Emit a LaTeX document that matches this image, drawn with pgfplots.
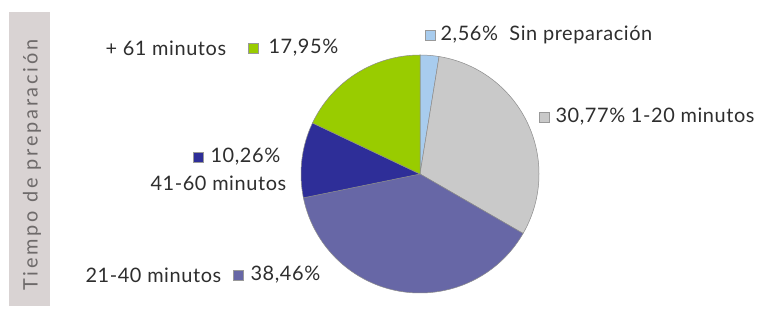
\documentclass[border=0pt]{standalone}
\usepackage{fontspec}
\setmainfont{Lato}
\usepackage{pgfplots}
\usepackage{pgfplotstable}
\pgfplotsset{compat=1.18}
\definecolor{c0}{HTML}{A8CCEE}
\definecolor{c1}{HTML}{C9C9C9}
\definecolor{c2}{HTML}{6767A6}
\definecolor{c3}{HTML}{2E2E98}
\definecolor{c4}{HTML}{99CC00}
\definecolor{band}{HTML}{D9D3D3}
\definecolor{bandtext}{HTML}{6E6A6A}
\definecolor{txt}{HTML}{2E2E2E}

\pgfplotstableread{
pct
2.56
30.77
38.46
10.26
17.95
}\piedata

\begin{document}
\begin{tikzpicture}
\begin{axis}[x=1bp,y=1bp,xmin=0,xmax=764,ymin=0,ymax=306,hide axis,clip=false,scale only axis,
  every node/.append style={inner sep=0pt}]
\fill[white] (axis cs:0,0) rectangle (axis cs:764,306);
\fill[band] (axis cs:9,0) rectangle (axis cs:50,294);
\def\startang{90}
\pgfplotsforeachungrouped \i in {0,...,4}{%
  \pgfplotstablegetelem{\i}{pct}\of\piedata
  \pgfmathsetmacro\endang{\startang-3.6*\pgfplotsretval}%
  \edef\temp{\noexpand\filldraw[fill=c\i,draw=black!45,line width=0.5bp] (axis cs:420,132) -- ++(\startang:119bp) arc[start angle=\startang,end angle=\endang,radius=119bp] -- cycle;}%
  \temp
  \global\let\startang\endang
}
\node[rotate=90,text=bandtext,font=\fontsize{20}{23}\selectfont\addfontfeature{LetterSpace=14}] at (axis cs:32,141) {Tiempo de preparación};
\tikzset{lab/.style={anchor=west,text=txt,font=\fontsize{20}{23}\selectfont\addfontfeature{LetterSpace=3}},
  sq/.style={draw=black!40,minimum size=10bp,inner sep=0pt}}
\node[lab] at (axis cs:102,258) {+ 61 minutos};
\node[sq,fill=c4] at (axis cs:253,258) {};
\node[lab] at (axis cs:265,258) {17,95\%};
\node[sq,fill=c0] at (axis cs:430,271) {};
\node[lab] at (axis cs:437,271) {2,56\%\ \ Sin preparación};
\node[sq,fill=c1] at (axis cs:544,189) {};
\node[lab] at (axis cs:552,189) {30,77\% 1-20 minutos};
\node[sq,fill=c3] at (axis cs:198,149) {};
\node[lab] at (axis cs:207,149) {10,26\%};
\node[lab] at (axis cs:147,123) {41-60 minutos};
\node[lab] at (axis cs:82,31) {21-40 minutos};
\node[sq,fill=c2] at (axis cs:238,31) {};
\node[lab] at (axis cs:247,31) {38,46\%};
\end{axis}
\end{tikzpicture}
\end{document}
